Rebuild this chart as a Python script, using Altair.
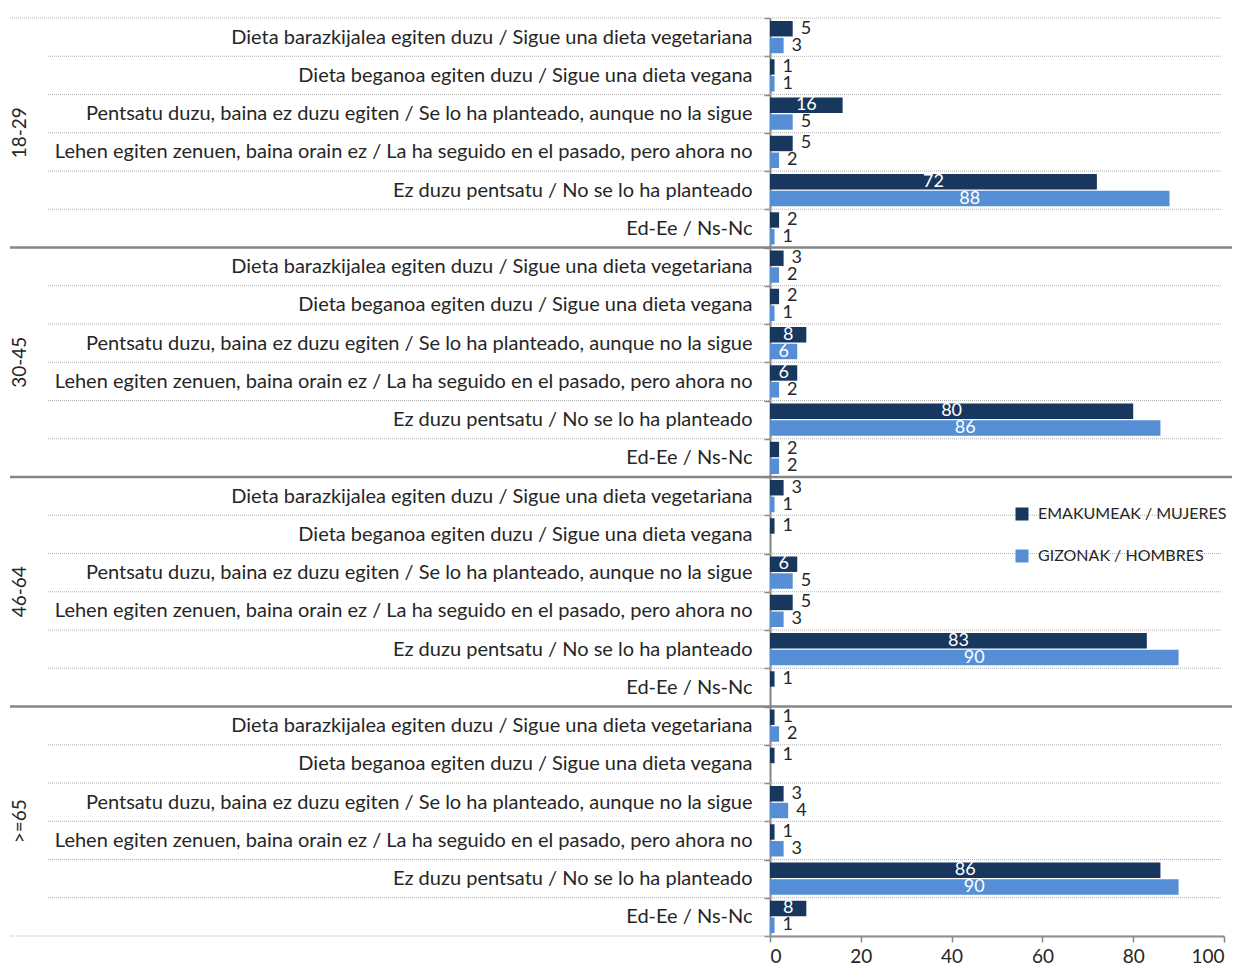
import altair as alt
import pandas as pd

groups = ["18-29", "30-45", "46-64", ">=65"]
categories = [
    "Dieta barazkijalea egiten duzu / Sigue una dieta vegetariana",
    "Dieta beganoa egiten duzu / Sigue una dieta vegana",
    "Pentsatu duzu, baina ez duzu egiten / Se lo ha planteado, aunque no la sigue",
    "Lehen egiten zenuen, baina orain ez / La ha seguido en el pasado, pero ahora no",
    "Ez duzu pentsatu / No se lo ha planteado",
    "Ed-Ee / Ns-Nc",
]
series = ["EMAKUMEAK / MUJERES", "GIZONAK / HOMBRES"]

mujeres_18_29 = [5, 1, 16, 5, 72, 2]
mujeres_30_45 = [3, 2, 8, 6, 80, 2]
mujeres_46_64 = [3, 1, 6, 5, 83, 1]
mujeres_65 = [1, 1, 3, 1, 86, 8]
hombres_18_29 = [3, 1, 5, 2, 88, 1]
hombres_30_45 = [2, 1, 6, 2, 86, 2]
hombres_46_64 = [1, None, 5, 3, 90, None]
hombres_65 = [2, None, 4, 3, 90, 1]

mujeres = [mujeres_18_29, mujeres_30_45, mujeres_46_64, mujeres_65]
hombres = [hombres_18_29, hombres_30_45, hombres_46_64, hombres_65]

records = []
for gi, g in enumerate(groups):
    for ci, c in enumerate(categories):
        for s, vals in zip(series, (mujeres[gi], hombres[gi])):
            records.append({
                "group": g, "gi": gi, "cat": c, "row": ci,
                "key": f"{g}|{c}", "series": s, "value": vals[ci],
            })
df = pd.DataFrame(records)

key_order = [f"{g}|{c}" for g in groups for c in categories]

FONT = "Lato"
TXT = "#262626"
AXC = "#868686"
DARK = "#17375E"
LIGHT = "#558ED5"
W, H = 454, 918

yscale = alt.Scale(domain=key_order, paddingInner=0, paddingOuter=0)
yaxis = alt.Axis(
    title=None, labelExpr="split(datum.label, '|')[1]", labelFont=FONT,
    labelFontSize=20, labelColor=TXT, labelPadding=12, labelLimit=900,
    tickBand="extent", tickSize=6, tickColor=AXC, tickWidth=1.5,
    domainColor=AXC, domainWidth=2, grid=False,
)
xscale = alt.Scale(domain=[0, 100], nice=False)
xaxis = alt.Axis(
    title=None, values=[0, 20, 40, 60, 80, 100], grid=False, tickSize=6,
    tickColor=AXC, tickWidth=1.5, domainColor=AXC, domainWidth=2,
    labelFont=FONT, labelFontSize=19, labelColor=TXT, labelPadding=5,
)
yoff = alt.YOffset("series:N", scale=alt.Scale(domain=series, paddingInner=0.08, paddingOuter=0.18))


def Y(bp=None):
    if bp is None:
        return alt.Y("key:N", scale=yscale, axis=yaxis)
    return alt.Y("key:N", scale=yscale, axis=yaxis, bandPosition=bp)


base = alt.Chart(df)
first = base.transform_filter(alt.datum.series == series[0])

bars = base.transform_filter("isValid(datum.value)").mark_bar().encode(
    x=alt.X("value:Q", scale=xscale, axis=xaxis),
    y=Y(),
    yOffset=yoff,
    color=alt.Color(
        "series:N",
        scale=alt.Scale(domain=series, range=[DARK, LIGHT]),
        legend=alt.Legend(
            title=None, orient="none", legendX=244, legendY=488,
            symbolType="square", symbolSize=169, symbolStrokeWidth=0,
            labelFont=FONT, labelFontSize=16, labelColor=TXT, labelLimit=400,
            rowPadding=26, labelOffset=8,
        ),
    ),
)

inner_rules = first.transform_filter("datum.row > 0").mark_rule(
    color="#b0b0b0", strokeDash=[1, 1], strokeWidth=1
).encode(y=Y(0), x=alt.value(-722), x2=alt.value(452))

top_rule = first.transform_filter("datum.row == 0 && datum.gi == 0").mark_rule(
    color="#b0b0b0", strokeDash=[1, 1], strokeWidth=1
).encode(y=Y(0), x=alt.value(-760), x2=alt.value(452))

bottom_rule = first.transform_filter("datum.row == 5 && datum.gi == 3").mark_rule(
    color="#b0b0b0", strokeDash=[1, 1], strokeWidth=1
).encode(y=Y(1), x=alt.value(-760), x2=alt.value(452))

group_rules = first.transform_filter("datum.row == 0 && datum.gi > 0").mark_rule(
    color=AXC, strokeWidth=2.5
).encode(y=Y(0), x=alt.value(-760), x2=alt.value(472))

age_text = first.transform_filter("datum.row == 3").mark_text(
    angle=270, font=FONT, fontSize=19, color=TXT, align="center", baseline="middle"
).encode(y=Y(0), x=alt.value(-750), text="group:N")

inside = base.transform_filter("isValid(datum.value) && datum.value >= 6").transform_calculate(
    mid="datum.value / 2"
).mark_text(font=FONT, fontSize=18, color="white", align="center", baseline="middle").encode(
    x=alt.X("mid:Q", scale=xscale, axis=xaxis), y=Y(), yOffset=yoff, text="value:Q"
)

outside = base.transform_filter("isValid(datum.value) && datum.value < 6").mark_text(
    font=FONT, fontSize=18, color=TXT, align="left", baseline="middle", dx=8
).encode(
    x=alt.X("value:Q", scale=xscale, axis=xaxis), y=Y(), yOffset=yoff, text="value:Q"
)

chart = alt.layer(
    inner_rules, top_rule, bottom_rule, group_rules, bars, inside, outside, age_text
).properties(
    width=W, height=H,
    autosize=alt.AutoSizeParams(type="none"),
    padding={"left": 762, "top": 10, "right": 8, "bottom": 30},
).configure_view(stroke=None)

chart.save("out.html", embed_options={"renderer": "svg", "actions": False})
